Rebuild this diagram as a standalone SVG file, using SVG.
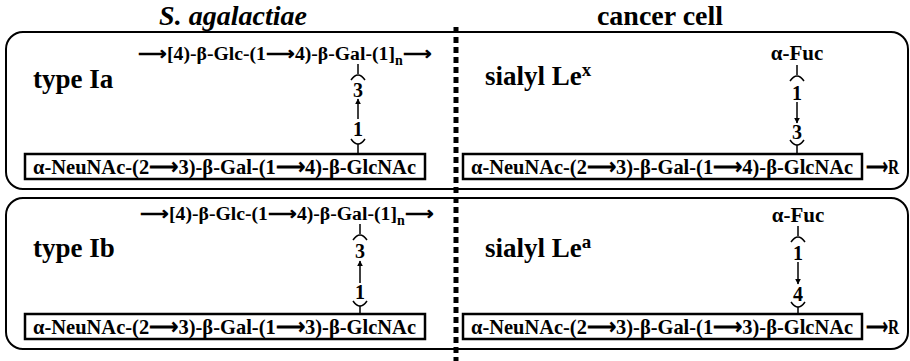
<svg xmlns="http://www.w3.org/2000/svg" width="910" height="361" viewBox="0 0 910 361" font-family="'Liberation Serif', 'Times New Roman', serif">
<defs>
<marker id="ah" viewBox="0 0 10 10" refX="9" refY="5" markerWidth="6" markerHeight="7" markerUnits="userSpaceOnUse" orient="auto">
<path d="M0,0 L10,5 L0,10 z" fill="#000"/>
</marker>
<style>
text{font-family:'Liberation Serif','Times New Roman',serif;font-weight:bold;fill:#000}
.title{font-size:28px}
.lab{font-size:27px}
.seq{font-size:21px}
.chain{font-size:19.7px}
.num{font-size:20px;text-anchor:middle}
.panel{fill:none;stroke:#000;stroke-width:2}
.box{fill:#fff;stroke:#000;stroke-width:2.5}
.ln{fill:none;stroke:#000;stroke-width:1.5}
.arr{fill:none;stroke:#000;stroke-width:1.5;marker-end:url(#ah)}
</style>
</defs>
<rect width="910" height="361" fill="#fff"/>
<g id="titles">
<text class="title" x="233" y="25" text-anchor="middle" font-style="italic">S. agalactiae</text>
<text class="title" x="660" y="25" text-anchor="middle">cancer cell</text>
</g>
<g id="panel1">
<rect class="panel" x="6" y="32" width="902" height="157" rx="17"/>
</g>
<g id="panel2">
<rect class="panel" x="6" y="198" width="902" height="151" rx="17"/>
</g>
<g id="divider">
<line x1="456" y1="27" x2="456" y2="361" stroke="#000" stroke-width="5" stroke-dasharray="6 4"/>
</g>
<g id="typeIa">
<text class="lab" x="33" y="88">type Ia</text>
<text class="chain" x="138" y="60">⟶[4)-β-Glc-(1⟶4)-β-Gal-(1]<tspan font-size="14" dy="5">n</tspan><tspan dy="-5">⟶</tspan></text>
<rect class="box" x="25" y="154" width="400" height="25"/>
<text class="seq" x="33" y="174" textLength="383" lengthAdjust="spacingAndGlyphs">α-NeuNAc-(2⟶3)-β-Gal-(1⟶4)-β-GlcNAc</text>
</g>
<g id="typeIb">
<text class="lab" x="33" y="257">type Ib</text>
<text class="chain" x="140" y="220">⟶[4)-β-Glc-(1⟶4)-β-Gal-(1]<tspan font-size="14" dy="5">n</tspan><tspan dy="-5">⟶</tspan></text>
<rect class="box" x="25" y="314" width="400" height="25"/>
<text class="seq" x="33" y="334" textLength="383" lengthAdjust="spacingAndGlyphs">α-NeuNAc-(2⟶3)-β-Gal-(1⟶3)-β-GlcNAc</text>
</g>
<g id="sLex">
<text class="lab" x="485" y="85">sialyl Le<tspan font-size="19" dy="-9">x</tspan></text>
<text class="seq" x="797" y="60" text-anchor="middle">α-Fuc</text>
<rect class="box" x="463" y="154" width="399" height="25"/>
<text class="seq" x="471" y="174" textLength="382" lengthAdjust="spacingAndGlyphs">α-NeuNAc-(2⟶3)-β-Gal-(1⟶4)-β-GlcNAc</text>
<text class="seq" x="866" y="174" textLength="33" lengthAdjust="spacingAndGlyphs">⟶R</text>
</g>
<g id="sLea">
<text class="lab" x="485" y="257">sialyl Le<tspan font-size="19" dy="-9">a</tspan></text>
<text class="seq" x="798" y="222" text-anchor="middle">α-Fuc</text>
<rect class="box" x="463" y="314" width="399" height="25"/>
<text class="seq" x="471" y="334" textLength="382" lengthAdjust="spacingAndGlyphs">α-NeuNAc-(2⟶3)-β-Gal-(1⟶3)-β-GlcNAc</text>
<text class="seq" x="866" y="334" textLength="33" lengthAdjust="spacingAndGlyphs">⟶R</text>
</g>
<g id="connectors">
<line class="ln" x1="358" y1="64" x2="358" y2="74"/>
<path class="ln" d="M351,80 Q358,70 365,80"/>
<text class="num" x="358" y="97">3</text>
<line class="arr" x1="358" y1="119" x2="358" y2="99"/>
<text class="num" x="358" y="136">1</text>
<path class="ln" d="M351,139 Q358,149 365,139"/>
<line class="ln" x1="358" y1="144" x2="358" y2="154"/>

<line class="ln" x1="797" y1="65" x2="797" y2="75"/>
<path class="ln" d="M790,81 Q797,71 804,81"/>
<text class="num" x="797" y="100">1</text>
<line class="arr" x1="797" y1="102" x2="797" y2="123"/>
<text class="num" x="797" y="139">3</text>
<path class="ln" d="M790,140 Q797,150 804,140"/>
<line class="ln" x1="797" y1="145" x2="797" y2="154"/>

<line class="ln" x1="360" y1="224" x2="360" y2="234"/>
<path class="ln" d="M353,240 Q360,230 367,240"/>
<text class="num" x="360" y="258">3</text>
<line class="arr" x1="360" y1="283" x2="360" y2="261"/>
<text class="num" x="360" y="299">1</text>
<path class="ln" d="M353,301 Q360,311 367,301"/>
<line class="ln" x1="360" y1="306" x2="360" y2="314"/>

<line class="ln" x1="798" y1="226" x2="798" y2="236"/>
<path class="ln" d="M791,242 Q798,232 805,242"/>
<text class="num" x="798" y="260">1</text>
<line class="arr" x1="798" y1="262" x2="798" y2="284"/>
<text class="num" x="798" y="301">4</text>
<path class="ln" d="M791,302 Q798,312 805,302"/>
<line class="ln" x1="798" y1="307" x2="798" y2="314"/>
</g>
</svg>
